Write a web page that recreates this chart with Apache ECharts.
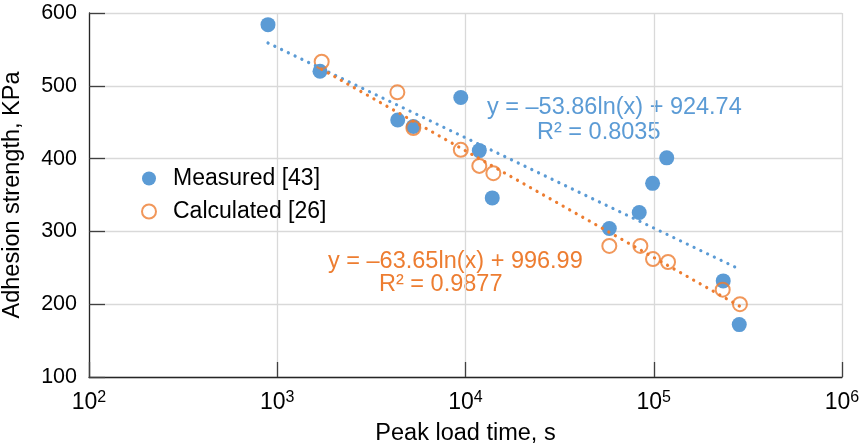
<!DOCTYPE html>
<html><head><meta charset="utf-8">
<script src="https://cdn.jsdelivr.net/npm/echarts@6/dist/echarts.min.js"></script>
<style>html,body{margin:0;padding:0;background:#fff}#c{width:862px;height:448px}</style>
</head><body><div id="c"></div>
<script>
// Measured [43]
const measuredX = [893, 1687, 4365, 5285, 9440, 11840, 13870, 58070, 83730, 98600, 117200, 233900, 284600];
const measuredY = [584, 520, 453, 444, 484, 411, 346, 304, 326, 366, 401, 232, 172];
// Calculated [26]
const calcX = [1722, 4345, 5285, 9440, 11840, 14060, 58070, 84900, 99100, 119100, 232400, 287000];
const calcY = [533, 491, 442, 412, 390, 380, 280, 280, 262, 258, 220, 200];
// Logarithmic trendlines: y = a*ln(x) + b
const measuredFit = {a: -53.86, b: 924.74, r2: '0.8035'};
const calcFit = {a: -63.65, b: 996.99, r2: '0.9877'};
const xTicks = [100, 1000, 10000, 100000, 1000000];
const yTicks = [100, 200, 300, 400, 500, 600];

const BLUE = '#5B9BD5', ORANGE = '#ED7D31';
const FONT = '"Liberation Sans", Arial, sans-serif';

function fitLine(fit, xs) {
  const lo = Math.min(...xs), hi = Math.max(...xs);
  return [lo, hi].map(x => [x, fit.a * Math.log(x) + fit.b]);
}
const zip = (a, b) => a.map((v, i) => [v, b[i]]);

const chart = echarts.init(document.getElementById('c'), null, {renderer: 'canvas'});
chart.setOption({
  animation: false,
  backgroundColor: '#fff',
  grid: {left: 89, right: 20, top: 13, bottom: 71, containLabel: false, outerBoundsMode: 'none'},
  xAxis: {
    type: 'log', logBase: 10, min: xTicks[0], max: xTicks[xTicks.length - 1],
    name: 'Peak load time, s', nameLocation: 'middle', nameGap: 45,
    nameTextStyle: {color: '#000', fontSize: 23.5, fontFamily: FONT},
    axisLine: {show: true, lineStyle: {color: '#262626', width: 1.3}},
    axisTick: {show: true, inside: true, length: 15, lineStyle: {color: '#404040', width: 1.3}},
    splitLine: {show: true, lineStyle: {color: '#d9d9d9', width: 1.3}},
    minorTick: {show: false},
    axisLabel: {
      margin: 13,
      formatter: v => '{b|10}{s|' + Math.round(Math.log10(v)) + '}',
      rich: {
        b: {fontSize: 23, fontFamily: FONT, color: '#000', lineHeight: 24, verticalAlign: 'bottom'},
        s: {fontSize: 16, fontFamily: FONT, color: '#000', lineHeight: 24, verticalAlign: 'top', padding: [0, 0, 7, 0]}
      }
    }
  },
  yAxis: {
    type: 'value', min: yTicks[0], max: yTicks[yTicks.length - 1], interval: 100,
    name: 'Adhesion strength, KPa', nameLocation: 'middle', nameGap: 64, nameRotate: 90,
    nameTextStyle: {color: '#000', fontSize: 23.5, fontFamily: FONT},
    axisLine: {show: true, lineStyle: {color: '#262626', width: 1.3}},
    axisTick: {show: true, inside: true, length: 16, lineStyle: {color: '#404040', width: 1.3}},
    splitLine: {show: true, lineStyle: {color: '#d9d9d9', width: 1.3}},
    axisLabel: {color: '#000', fontSize: 21.5, fontFamily: FONT, margin: 12}
  },
  legend: {
    orient: 'vertical', left: 136, top: 162, itemGap: 10,
    itemWidth: 14, itemHeight: 14,
    textStyle: {fontSize: 23, lineHeight: 20, fontFamily: FONT, color: '#000', padding: [0, 0, 0, 12]},
    data: [
      {name: 'Measured [43]', icon: 'circle', itemStyle: {color: BLUE, borderWidth: 0}},
      {name: 'Calculated [26]', icon: 'circle', itemStyle: {color: '#fff', borderColor: ORANGE, borderWidth: 2}}
    ]
  },
  series: [
    {name: 'Measured [43]', type: 'scatter', symbol: 'circle', symbolSize: 15,
     itemStyle: {color: BLUE, opacity: 1}, z: 2, data: zip(measuredX, measuredY)},
    {name: 'Calculated [26]', type: 'scatter', symbol: 'circle', symbolSize: 14,
     itemStyle: {color: 'rgba(255,255,255,0)', borderColor: ORANGE, borderWidth: 2}, z: 3, data: zip(calcX, calcY)},
    {name: 'fitM', type: 'line', symbol: 'none', z: 4, silent: true,
     lineStyle: {color: BLUE, width: 3.2, type: [0.1, 7.4], cap: 'round'}, data: fitLine(measuredFit, measuredX)},
    {name: 'fitC', type: 'line', symbol: 'none', z: 4, silent: true,
     lineStyle: {color: ORANGE, width: 3.2, type: [0.1, 7.4], cap: 'round'}, data: fitLine(calcFit, calcX)}
  ],
  graphic: [
    {type: 'text', left: 487, top: 96, silent: true,
     style: {text: 'y = \u201353.86ln(x) + 924.74', fill: BLUE, font: '23.5px ' + FONT}},
    {type: 'text', left: 537, top: 121, silent: true,
     style: {text: 'R\u00b2 = ' + measuredFit.r2, fill: BLUE, font: '23.5px ' + FONT}},
    {type: 'text', left: 328, top: 250, silent: true,
     style: {text: 'y = \u201363.65ln(x) + 996.99', fill: ORANGE, font: '23.5px ' + FONT}},
    {type: 'text', left: 379, top: 273, silent: true,
     style: {text: 'R\u00b2 = ' + calcFit.r2, fill: ORANGE, font: '23.5px ' + FONT}}
  ]
});
</script></body></html>
